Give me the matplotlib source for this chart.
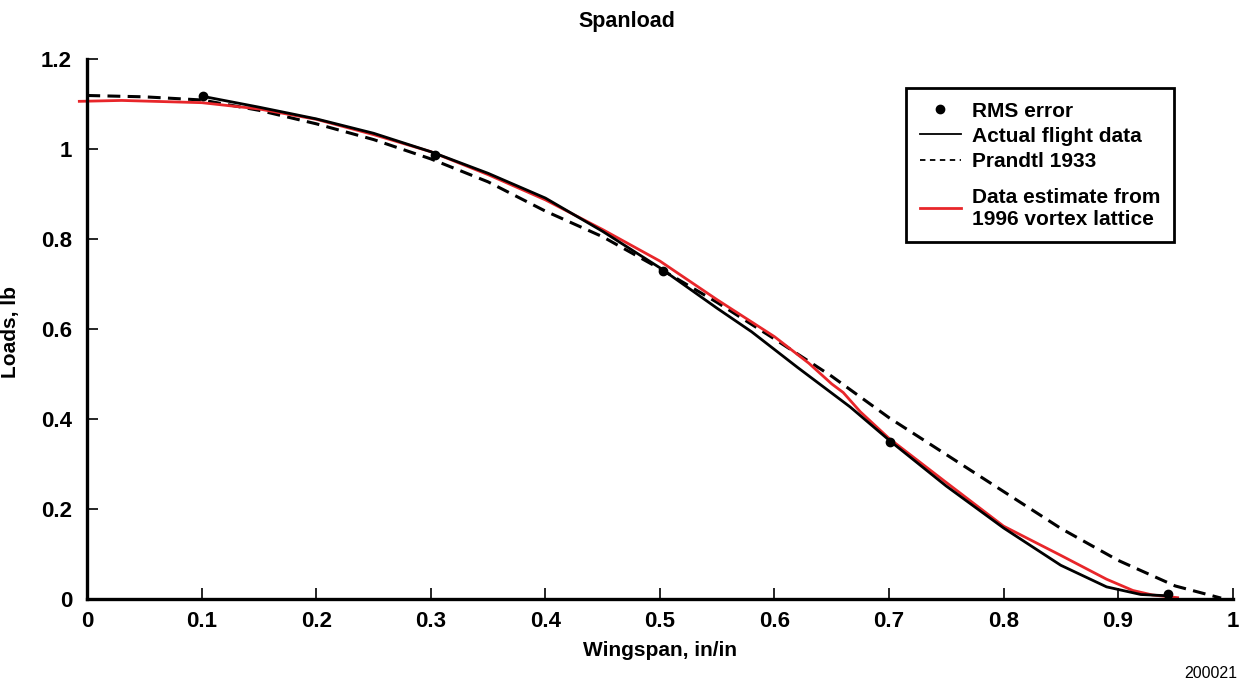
import matplotlib
matplotlib.use("Agg")
import matplotlib.pyplot as plt
from matplotlib.lines import Line2D
from matplotlib.offsetbox import DrawingArea

plt.rcParams["font.family"] = ["Liberation Sans", "DejaVu Sans"]

# RMS error points
rms_x = [0.101, 0.304, 0.503, 0.701, 0.944]
rms_y = [1.118, 0.987, 0.731, 0.349, 0.013]

# Actual flight data
flight_x = [0.101, 0.15, 0.2, 0.25, 0.3, 0.35, 0.4, 0.45, 0.5, 0.55, 0.58,
            0.62, 0.666, 0.702, 0.75, 0.8, 0.85, 0.89, 0.92, 0.945]
flight_y = [1.118, 1.094, 1.068, 1.036, 0.995, 0.947, 0.892, 0.818, 0.737,
            0.647, 0.595, 0.516, 0.428, 0.350, 0.252, 0.159, 0.076, 0.028,
            0.011, 0.008]

# Prandtl 1933 spanload
prandtl_x = [0.0, 0.05, 0.1, 0.15, 0.2, 0.25, 0.3, 0.35, 0.4, 0.45, 0.5,
             0.55, 0.6, 0.65, 0.7, 0.75, 0.8, 0.85, 0.9, 0.95, 0.99]
prandtl_y = [1.120, 1.117, 1.110, 1.087, 1.057, 1.022, 0.979, 0.928, 0.863,
             0.806, 0.735, 0.660, 0.579, 0.496, 0.404, 0.322, 0.240, 0.158,
             0.087, 0.030, 0.003]

# 1996 vortex lattice estimate
lattice_x = [-0.007, 0.03, 0.1, 0.15, 0.2, 0.25, 0.3, 0.35, 0.4, 0.45, 0.5,
             0.55, 0.6, 0.63, 0.65, 0.66, 0.675, 0.7, 0.75, 0.8, 0.85, 0.89,
             0.913, 0.93, 0.952]
lattice_y = [1.107, 1.109, 1.104, 1.090, 1.067, 1.033, 0.995, 0.944, 0.888,
             0.822, 0.752, 0.666, 0.584, 0.525, 0.479, 0.460, 0.417, 0.358,
             0.260, 0.163, 0.098, 0.045, 0.020, 0.010, 0.004]

xticks = [0, 0.1, 0.2, 0.3, 0.4, 0.5, 0.6, 0.7, 0.8, 0.9, 1]
xticklabels = ["0", "0.1", "0.2", "0.3", "0.4", "0.5", "0.6", "0.7", "0.8", "0.9", "1"]
yticks = [0, 0.2, 0.4, 0.6, 0.8, 1.0, 1.2]
yticklabels = ["0", "0.2", "0.4", "0.6", "0.8", "1", "1.2"]

fig = plt.figure(figsize=(12.43, 6.83), dpi=100)
ax = fig.add_axes([0.0592, 0.1223, 0.9324, 0.7906])

ax.plot(prandtl_x, prandtl_y, color="black", lw=2.2, dashes=[4.2, 2.4],
        clip_on=False)
ax.plot(lattice_x, lattice_y, color="#e8262a", lw=2.0, clip_on=False)
ax.plot(flight_x, flight_y, color="black", lw=2.0, clip_on=False)
ax.plot(rms_x, rms_y, "o", color="black", ms=6, clip_on=False)

ax.set_xlim(-0.012, 1.0)
ax.set_ylim(0, 1.2)

for side in ("top", "right"):
    ax.spines[side].set_visible(False)
ax.spines["left"].set_position(("data", 0))
ax.spines["left"].set_bounds(0, 1.2)
ax.spines["bottom"].set_bounds(0, 1.0)
ax.spines["left"].set_linewidth(2.4)
ax.spines["bottom"].set_linewidth(2.4)

ax.set_xticks(xticks)
ax.set_xticklabels(xticklabels, fontweight="bold")
ax.set_yticks(yticks)
ax.set_yticklabels(yticklabels, fontweight="bold")
ax.tick_params(axis="x", direction="in", length=8, width=1.2, pad=8,
               labelsize=16)
ax.tick_params(axis="y", direction="in", length=8, width=1.2, pad=11,
               labelsize=16)

ax.set_xlabel("Wingspan, in/in", fontsize=15, fontweight="bold")
ax.xaxis.set_label_coords(0.506, -0.077)
ax.set_ylabel("Loads, lb", fontsize=15, fontweight="bold")
ax.yaxis.set_label_coords(-0.046, 0.495)

fig.text(627 / 1243, 1 - 21 / 683, "Spanload", ha="center", va="center",
         fontsize=15.5, fontweight="bold")
fig.text(1237 / 1243, 1 - 673 / 683, "200021", ha="right", va="center",
         fontsize=11.5)

handles = [
    Line2D([], [], ls="none", marker="o", color="black", ms=6),
    Line2D([], [], color="black", lw=1.3),
    Line2D([], [], color="black", lw=1.3, dashes=[3, 2.5]),
    Line2D([], [], color="#e8262a", lw=2.0),
]
labels = ["RMS error", "Actual flight data", "Prandtl 1933",
          "Data estimate from\n1996 vortex lattice"]
leg = ax.legend(handles, labels, loc="upper left",
                bbox_to_anchor=(906 / 1243, 1 - 88 / 683),
                bbox_transform=fig.transFigure, borderaxespad=0,
                fancybox=False, framealpha=1, edgecolor="black",
                prop={"size": 15, "weight": "bold"},
                handlelength=2.0, handletextpad=0.5, labelspacing=0.3,
                borderpad=0.65)
leg.get_frame().set_linewidth(2.0)

# a little extra room above the vortex lattice entry
column = leg._legend_handle_box.get_children()[0]
column.get_children().insert(3, DrawingArea(1, 3))

fig.savefig("out.png", dpi=100, facecolor="white")
